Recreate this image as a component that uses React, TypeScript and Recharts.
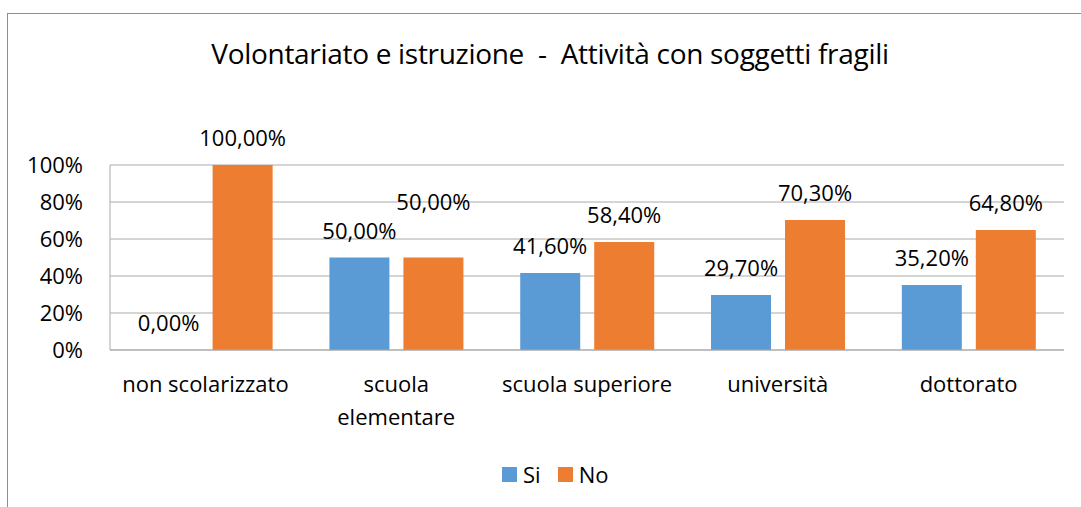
import React from 'react';
import { BarChart, Bar, XAxis, YAxis, CartesianGrid, Legend, LabelList } from 'recharts';

const FONT = '"Open Sans", sans-serif';

const categories = ['non scolarizzato', 'scuola\nelementare', 'scuola superiore', 'università', 'dottorato'];
const siValues = [0, 50, 41.6, 29.7, 35.2];
const noValues = [100, 50, 58.4, 70.3, 64.8];
const yTicks = [0, 20, 40, 60, 80, 100];

const series = [
  { key: 'Si', color: '#5B9BD5' },
  { key: 'No', color: '#ED7D31' },
];

const rows = categories.map((name, i) => ({ name, Si: siValues[i], No: noValues[i] }));

const fmt = (v: number) => v.toFixed(2).replace('.', ',') + '%';

// in the original the "No" label of "scuola elementare" was dragged up by hand
const NO_LIFTED_INDEX = 1;

const makeLabel = (lifted: number | null) => (props: any) => {
  const { value, index } = props;
  const vb = props.viewBox || {};
  const x = props.x ?? vb.x;
  const y = props.y ?? vb.y;
  const width = props.width ?? vb.width ?? 0;
  if (x == null || y == null) return null;
  const lift = index === lifted ? 29 : 0;
  return (
    <text x={x + width / 2} y={y - 19 - lift} textAnchor="middle" fontFamily={FONT} fontSize={22} fill="#000">
      {fmt(Number(value))}
    </text>
  );
};

const CategoryTick = (props: any) => {
  const { x, y, payload } = props;
  const lines = String(payload.value).split('\n');
  return (
    <text x={x} y={y} textAnchor="middle" fontFamily={FONT} fontSize={22} fill="#000">
      {lines.map((l, i) => (
        <tspan key={i} x={x} dy={i === 0 ? 15 : 33}>{l}</tspan>
      ))}
    </text>
  );
};

const renderLegend = () => (
  <div style={{ display: 'flex', alignItems: 'center', fontFamily: FONT, fontSize: 22, color: '#000', lineHeight: '30px' }}>
    {series.map((s, i) => (
      <div key={s.key} style={{ display: 'flex', alignItems: 'center', marginRight: i === 0 ? 17 : 0 }}>
        <span style={{ display: 'inline-block', width: 15, height: 15, background: s.color, marginRight: 6 }} />
        <span>{s.key}</span>
      </div>
    ))}
  </div>
);

export default function App() {
  return (
    <div style={{ position: 'absolute', left: 0, top: 0, width: 1081, height: 507, overflow: 'hidden', background: '#fff' }}>
      <div style={{ position: 'absolute', left: 7, top: 13, width: 1200, height: 600, border: '1px solid #8e8e8e' }} />
      <div
        style={{
          position: 'absolute', left: 0, top: 38, width: 1100, textAlign: 'center',
          fontFamily: FONT, fontSize: 28, letterSpacing: -0.3, lineHeight: '30px', whiteSpace: 'pre', color: '#000',
        }}
      >
        {'Volontariato e istruzione  -  Attività con soggetti fragili'}
      </div>
      <div style={{ position: 'absolute', left: 0, top: 0 }}>
        <BarChart
          width={1081}
          height={507}
          data={rows}
          margin={{ top: 165, right: 17, bottom: 97, left: 0 }}
          barCategoryGap="15%"
          barGap={14}
        >
          <CartesianGrid vertical={false} stroke="#aaaaaa" />
          <XAxis
            dataKey="name"
            height={60}
            axisLine={{ stroke: '#aaaaaa' }}
            tickLine={false}
            tickSize={6}
            tickMargin={21}
            interval={0}
            tick={<CategoryTick />}
          />
          <YAxis
            width={110}
            domain={[0, 100]}
            ticks={yTicks}
            tickFormatter={(v) => `${v}%`}
            axisLine={{ stroke: '#aaaaaa' }}
            tickLine={false}
            tickSize={6}
            tickMargin={21}
            tick={{ fontFamily: FONT, fontSize: 22, fill: '#000' }}
          />
          <Legend
            verticalAlign="middle"
            align="center"
            layout="horizontal"
            wrapperStyle={{ top: 459, left: 502, width: 'auto' }}
            content={renderLegend}
          />
          {series.map((s) => (
            <Bar key={s.key} dataKey={s.key} fill={s.color} minPointSize={0.01} isAnimationActive={false}>
              <LabelList dataKey={s.key} content={makeLabel(s.key === 'No' ? NO_LIFTED_INDEX : null)} />
            </Bar>
          ))}
        </BarChart>
      </div>
    </div>
  );
}
